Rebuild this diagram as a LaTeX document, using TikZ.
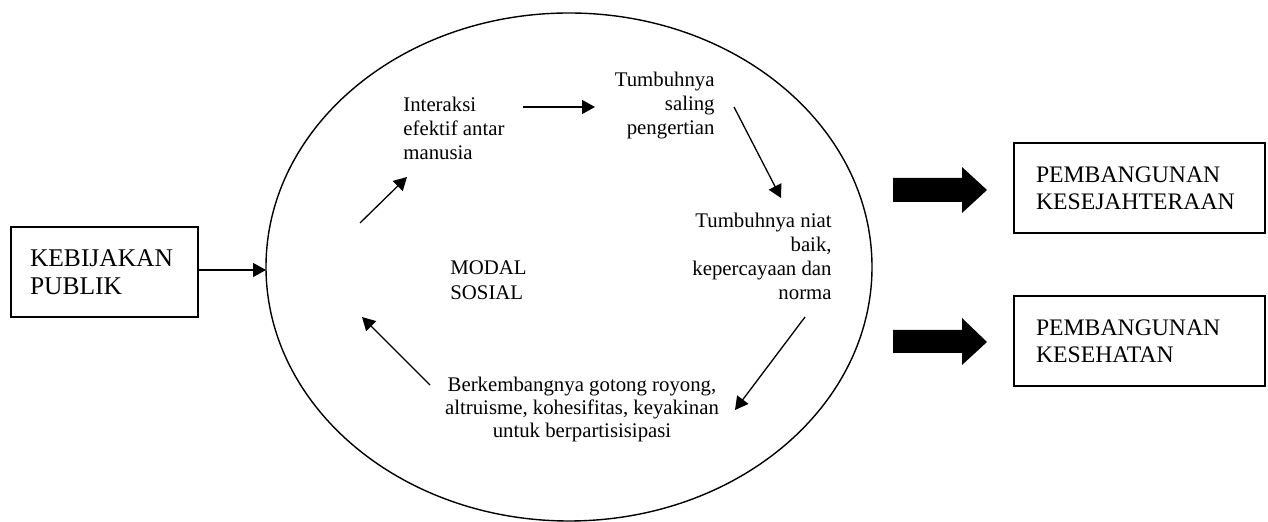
\documentclass[tikz,border=0pt]{standalone}
\usepackage{fontspec}
\setmainfont{Liberation Serif}
\usetikzlibrary{shapes.geometric,arrows.meta}
\begin{document}
\begin{tikzpicture}[x=0.5pt,y=-0.5pt,
  arr/.style={line width=0.65pt,-{Triangle[length=6.5pt,width=7pt]}},
  boxl/.style={draw,line width=0.7pt,text width=74.5pt,inner xsep=9.5pt,inner ysep=0pt,
    minimum height=45pt,align=left,font=\fontsize{12.75}{14}\selectfont},
  boxr/.style={draw,line width=0.7pt,text width=103.5pt,inner xsep=11pt,inner ysep=0pt,
    minimum height=45pt,align=left,font=\fontsize{11.85}{13.5}\selectfont},
  inner/.style={inner sep=0pt,font=\fontsize{10.4}{12}\selectfont},
  bigarrow/.style={fill=black}
]
\useasboundingbox (0,0) rectangle (1268,522);

% ellipse
\node[draw,ellipse,line width=0.7pt,inner sep=0pt,outer sep=0pt,
  minimum width=303pt,minimum height=254pt] (ell) at (569,267) {};

% boxes
\node[boxl] (kb) at (104.5,272) {KEBIJAKAN\\PUBLIK};
\node[boxr] (pk) at (1139.5,188) {PEMBANGUNAN\\KESEJAHTERAAN};
\node[boxr] (ph) at (1139.5,341) {PEMBANGUNAN\\KESEHATAN};

% inner texts (base anchor = baseline of last line)
\node[inner,anchor=base west,align=left] (inter) at (403,160) {Interaksi\\efektif antar\\manusia};
\node[inner,anchor=base east,align=right] (tsp) at (715,135) {Tumbuhnya\\saling\\pengertian};
\node[inner,anchor=base east,align=right] (tnb) at (832,300) {Tumbuhnya niat\\baik,\\kepercayaan dan\\norma};
\node[inner,anchor=base west,align=left,font=\fontsize{10.4}{12.5}\selectfont] (ms) at (450,300) {MODAL\\SOSIAL};
\node[inner,anchor=base,align=center,font=\fontsize{10.4}{11.6}\selectfont] (bgr) at (582,438) {Berkembangnya gotong royong,\\altruisme, kohesifitas, keyakinan\\untuk berpartisisipasi};

% connector end points
\coordinate (a1s) at (360,223); \coordinate (a1e) at (407,177);
\coordinate (a2s) at (523,107); \coordinate (a2e) at (595,107);
\coordinate (a3s) at (734,107); \coordinate (a3e) at (781,198);
\coordinate (a4s) at (805,317); \coordinate (a4e) at (735,410);
\coordinate (a5s) at (430,385); \coordinate (a5e) at (362,317);
\coordinate (k0) at (198,270);

\draw[arr] (k0) -- (k0 -| ell.west);
\draw[arr] (a1s) -- (a1e);
\draw[arr] (a2s) -- (a2e);
\draw[arr] (a3s) -- (a3e);
\draw[arr] (a4s) -- (a4e);
\draw[arr] (a5s) -- (a5e);

% thick block arrows
\fill[bigarrow] (893,178) -- (962,178) -- (962,167) -- (987,190) -- (962,213) -- (962,202) -- (893,202) -- cycle;
\fill[bigarrow] (893,330) -- (962,330) -- (962,318) -- (987,342) -- (962,365) -- (962,353) -- (893,353) -- cycle;
\end{tikzpicture}
\end{document}
